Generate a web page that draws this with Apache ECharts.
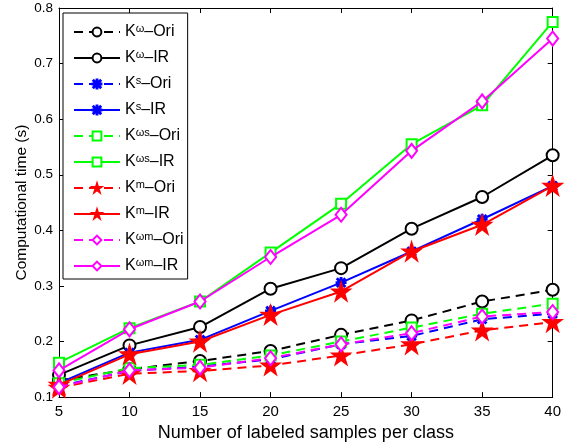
<!DOCTYPE html>
<html>
<head>
<meta charset="utf-8">
<script src="https://cdn.jsdelivr.net/npm/echarts@6/dist/echarts.min.js"></script>
<style>html,body{margin:0;padding:0;background:#fff;}#c{width:564px;height:447px;}</style>
</head>
<body>
<div id="c"></div>
<script>
var samples = [5, 10, 15, 20, 25, 30, 35, 40];
var xTicks = [5, 10, 15, 20, 25, 30, 35, 40];
var yTicks = [0.1, 0.2, 0.3, 0.4, 0.5, 0.6, 0.7, 0.8];

var kwOri  = [0.130, 0.150, 0.165, 0.183, 0.212, 0.238, 0.272, 0.293];
var kwIR   = [0.140, 0.193, 0.226, 0.295, 0.332, 0.403, 0.460, 0.535];
var ksOri  = [0.120, 0.147, 0.155, 0.168, 0.195, 0.210, 0.240, 0.250];
var ksIR   = [0.125, 0.180, 0.203, 0.255, 0.306, 0.362, 0.420, 0.480];
var kwsOri = [0.125, 0.152, 0.158, 0.175, 0.200, 0.225, 0.250, 0.268];
var kwsIR  = [0.162, 0.224, 0.272, 0.360, 0.448, 0.555, 0.625, 0.775];
var kmOri  = [0.117, 0.142, 0.147, 0.157, 0.175, 0.195, 0.220, 0.235];
var kmIR   = [0.122, 0.177, 0.200, 0.248, 0.290, 0.362, 0.410, 0.480];
var kwmOri = [0.118, 0.148, 0.153, 0.170, 0.195, 0.215, 0.245, 0.253];
var kwmIR  = [0.148, 0.222, 0.272, 0.352, 0.428, 0.543, 0.632, 0.745];

var seriesNames = ['Kω–Ori','Kω–IR','Ks–Ori','Ks–IR','Kωs–Ori','Kωs–IR','Km–Ori','Km–IR','Kωm–Ori','Kωm–IR'];
var supers =      ['ω','ω','s','s','ωs','ωs','m','m','ωm','ωm'];
var suffixes =    ['–Ori','–IR','–Ori','–IR','–Ori','–IR','–Ori','–IR','–Ori','–IR'];
var values = [kwOri, kwIR, ksOri, ksIR, kwsOri, kwsIR, kmOri, kmIR, kwmOri, kwmIR];
var colors = ['#000000','#000000','#0000ff','#0000ff','#00ff00','#00ff00','#ff0000','#ff0000','#ff00ff','#ff00ff'];

var asterisk = 'path://M0,9 L20,9 L20,11 L0,11 Z M9,0 L11,0 L11,20 L9,20 Z M2.7,1.3 L18.7,17.3 L17.3,18.7 L1.3,2.7 Z M17.3,1.3 L18.7,2.7 L2.7,18.7 L1.3,17.3 Z';
var star = 'path://M50,0 L61.2,34.5 L97.6,34.5 L68.2,55.9 L79.4,90.5 L50,69.1 L20.6,90.5 L31.8,55.9 L2.4,34.5 L38.8,34.5 Z';
var symbols = ['emptyCircle','emptyCircle',asterisk,asterisk,'emptyRect','emptyRect',star,star,'emptyDiamond','emptyDiamond'];
var symSizes = [12,12,9,9,10,10,17,17,[11,14],[11,14]];

var font = 'Liberation Sans, Arial, Helvetica, sans-serif';

var series = seriesNames.map(function(n, i){
  var dashed = suffixes[i] === '–Ori';
  var sz = symSizes[i];
  return {
    name: n,
    type: 'line',
    xAxisIndex: 0, yAxisIndex: 0,
    data: samples.map(function(x, j){ return [x, values[i][j]]; }),
    symbol: symbols[i],
    symbolSize: function(){ return sz; },
    showAllSymbol: true,
    lineStyle: { color: colors[i], width: 2, type: dashed ? [9, 6] : 'solid' },
    itemStyle: { color: colors[i], borderColor: colors[i], borderWidth: 2 },
    emphasis: { disabled: true },
    animation: false,
    z: 2 + i
  };
});

var chart = echarts.init(document.getElementById('c'), null, { renderer: 'canvas' });
chart.setOption({
  backgroundColor: '#fff',
  animation: false,
  textStyle: { fontFamily: font },
  grid: { left: 59, right: 9, top: 8, bottom: 49, containLabel: false },
  legend: {
    orient: 'vertical',
    left: 63, top: 13,
    padding: [10, 4, 3, 10],
    itemGap: 7,
    itemWidth: 46, itemHeight: 11,
    backgroundColor: '#fff',
    borderColor: '#000', borderWidth: 1,
    data: seriesNames,
    selectedMode: false,
    formatter: function(name){
      var i = seriesNames.indexOf(name);
      return '{k|K}{sup|' + supers[i] + '}{t|' + suffixes[i] + '}';
    },
    textStyle: {
      fontFamily: font, color: '#000', fontSize: 16,
      rich: {
        k: { fontSize: 16, fontFamily: font, color: '#000', lineHeight: 18 },
        sup: { fontSize: 11, fontFamily: font, color: '#000', verticalAlign: 'top', padding: [0, 0, 8, 0], lineHeight: 18 },
        t: { fontSize: 16, fontFamily: font, color: '#000', lineHeight: 18 }
      }
    }
  },
  xAxis: [{
    type: 'value', min: 5, max: 40, interval: 5,
    name: 'Number of labeled samples per class',
    nameLocation: 'middle', nameGap: 25,
    nameTextStyle: { fontSize: 18, color: '#000', fontFamily: font },
    axisLine: { lineStyle: { color: '#000', width: 1 } },
    axisTick: { inside: true, length: 5, lineStyle: { color: '#000' } },
    axisLabel: { color: '#000', fontSize: 15, margin: 7, fontFamily: font,
      formatter: function(v){ return xTicks.indexOf(v) >= 0 ? String(v) : ''; } },
    splitLine: { show: false }
  }, {
    type: 'value', min: 5, max: 40, interval: 5, position: 'top',
    axisLine: { lineStyle: { color: '#000', width: 1 } },
    axisTick: { inside: true, length: 5, lineStyle: { color: '#000' } },
    axisLabel: { show: false }, splitLine: { show: false }
  }],
  yAxis: [{
    type: 'value', min: 0.1, max: 0.8, interval: 0.1,
    name: 'Computational time (s)',
    nameLocation: 'middle', nameGap: 29, nameMoveOverlap: false,
    nameTextStyle: { fontSize: 15.5, color: '#000', fontFamily: font },
    axisLine: { show: true, lineStyle: { color: '#000', width: 1 } },
    axisTick: { show: true, inside: true, length: 5, lineStyle: { color: '#000' } },
    axisLabel: { color: '#000', fontSize: 13.5, margin: 6, fontFamily: font,
      formatter: function(v){ return (Math.round(v * 10) / 10).toFixed(1); } },
    splitLine: { show: false }
  }, {
    type: 'value', min: 0.1, max: 0.8, interval: 0.1, position: 'right',
    axisLine: { show: true, lineStyle: { color: '#000', width: 1 } },
    axisTick: { show: true, inside: true, length: 5, lineStyle: { color: '#000' } },
    axisLabel: { show: false }, splitLine: { show: false }
  }],
  series: series
});
</script>
</body>
</html>
